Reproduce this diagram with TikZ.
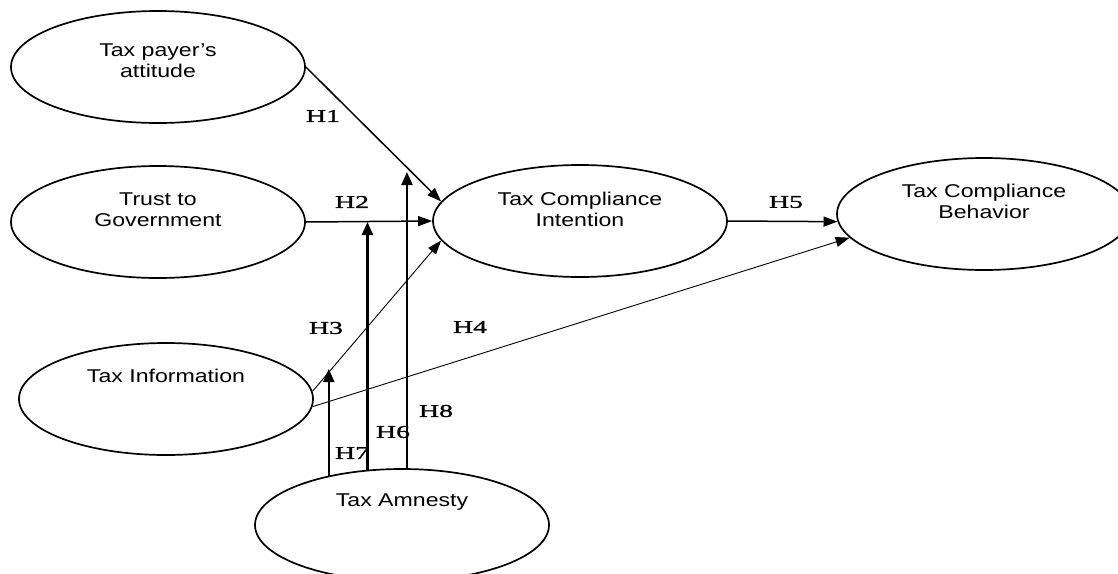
\documentclass[tikz,border=0pt]{standalone}
\usepackage{fontspec}
\newfontfamily\ellfont[FakeStretch=1.25]{Liberation Sans}
\newfontfamily\hypfont[FakeStretch=1.55,FakeBold=1.2]{Liberation Serif}
\usetikzlibrary{shapes.geometric,arrows.meta}

\begin{document}
\begin{tikzpicture}[x=1pt,y=-1pt,
    construct/.style={ellipse, draw, line width=1.7pt, minimum width=294pt, minimum height=112pt},
    ctext/.style={align=center, font=\ellfont\fontsize{18.5}{21}\selectfont},
    hyp/.style={font=\hypfont\fontsize{18}{18}\selectfont, inner sep=0pt},
    path/.style={line width=1.5pt, -{Triangle[length=14pt,width=10pt]}},
    thinpath/.style={line width=0.9pt, -{Triangle[length=14pt,width=10pt]}},
    modpath/.style={line width=2.2pt, -{Triangle[length=13pt,width=11pt]}}]
  \useasboundingbox (0,0) rectangle (1118,573);
  \node[construct, label={[ctext, yshift=6pt]center:Tax payer’s\\attitude}] (att) at (158,67) {};
  \node[construct, label={[ctext, yshift=12pt]center:Trust to\\Government}] (trust) at (158,222) {};
  \node[construct, label={[ctext, yshift=23pt]center:Tax Information}] (info) at (166,399) {};
  \node[construct, label={[ctext, yshift=12pt]center:Tax Compliance\\Intention}] (intent) at (580,221) {};
  \node[construct, label={[ctext, yshift=13pt]center:Tax Compliance\\Behavior}] (behav) at (984,214) {};
  \node[construct, label={[ctext, yshift=23pt]center:Tax Amnesty}] (amn) at (402,525) {};
  \coordinate (m7) at (331,369);
  \coordinate (m8) at (407,172);
  \draw[path] (att.east) -- (intent.172);
  \draw[path] (trust.east) -- (intent.west);
  \draw[thinpath] (info.3) -- (intent.188);
  \draw[thinpath] (info.-3) -- (behav.190);
  \draw[path] (intent.east) -- (behav.183);
  \draw[modpath] (amn.146) -- (amn.146 |- m7);
  \draw[modpath] (amn.122) -- (amn.122 |- trust.east);
  \draw[modpath] (amn.85) -- (amn.85 |- m8);
  \node[hyp] (h1) at (323,116) {H1};
  \node[hyp] (h2) at (352,202) {H2};
  \node[hyp] (h3) at (326,328) {H3};
  \node[hyp] (h4) at (470,327) {H4};
  \node[hyp] (h5) at (786,202) {H5};
  \node[hyp] (h6) at (393,432) {H6};
  \node[hyp] (h7) at (352,453) {H7};
  \node[hyp] (h8) at (436,411) {H8};
\end{tikzpicture}
\end{document}
